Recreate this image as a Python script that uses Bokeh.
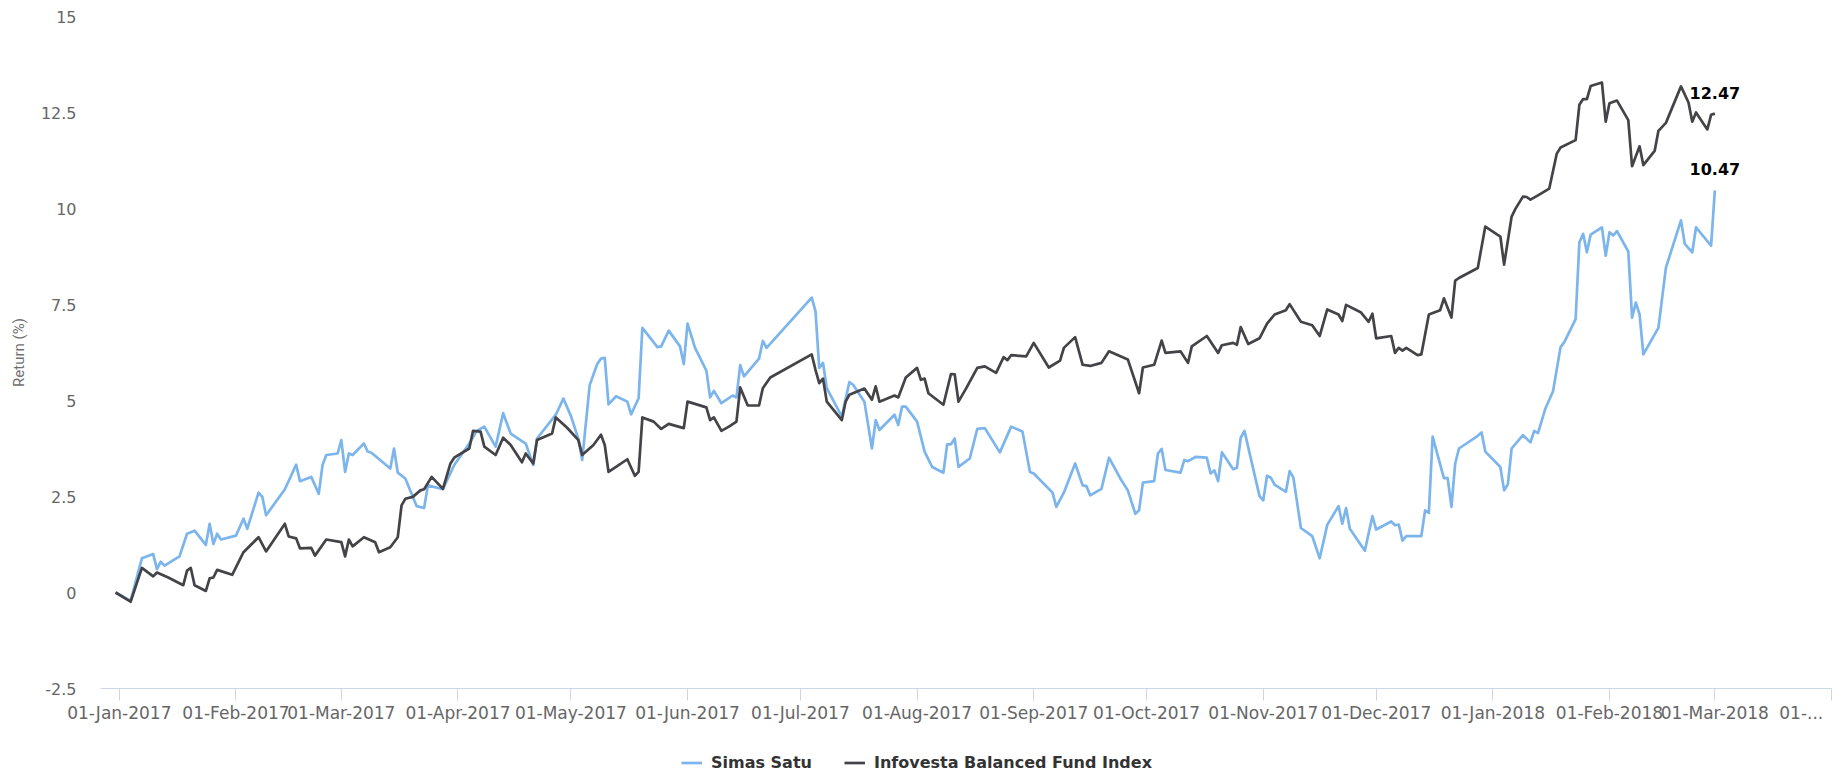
import pandas as pd
from bokeh.plotting import figure
from bokeh.layouts import column
from bokeh.models import (Range1d, FixedTicker, DatetimeTickFormatter, Legend,
                          LegendItem)
from bokeh.core.properties import value
from bokeh.embed import file_html
from bokeh.resources import INLINE

series_names = ["Simas Satu", "Infovesta Balanced Fund Index"]
series_colors = ["#7cb5ec", "#434348"]

simas_dates = [
    "2016-12-31", "2017-01-04", "2017-01-07", "2017-01-10", "2017-01-11", "2017-01-12", "2017-01-13",
    "2017-01-17", "2017-01-19", "2017-01-21", "2017-01-24", "2017-01-25", "2017-01-26", "2017-01-27",
    "2017-01-28", "2017-02-01", "2017-02-03", "2017-02-04", "2017-02-07", "2017-02-08", "2017-02-09",
    "2017-02-14", "2017-02-17", "2017-02-18", "2017-02-21", "2017-02-23", "2017-02-24", "2017-02-25",
    "2017-02-28", "2017-03-01", "2017-03-02", "2017-03-03", "2017-03-04", "2017-03-07", "2017-03-08",
    "2017-03-09", "2017-03-14", "2017-03-15", "2017-03-16", "2017-03-18", "2017-03-21", "2017-03-23",
    "2017-03-24", "2017-03-28", "2017-03-31", "2017-04-04", "2017-04-06", "2017-04-08", "2017-04-11",
    "2017-04-13", "2017-04-15", "2017-04-19", "2017-04-21", "2017-04-22", "2017-04-27", "2017-04-29",
    "2017-05-01", "2017-05-03", "2017-05-04", "2017-05-06", "2017-05-08", "2017-05-09", "2017-05-10",
    "2017-05-11", "2017-05-13", "2017-05-16", "2017-05-17", "2017-05-19", "2017-05-20", "2017-05-24",
    "2017-05-25", "2017-05-27", "2017-05-30", "2017-05-31", "2017-06-01", "2017-06-03", "2017-06-06",
    "2017-06-07", "2017-06-08", "2017-06-10", "2017-06-13", "2017-06-14", "2017-06-15", "2017-06-16",
    "2017-06-20", "2017-06-21", "2017-06-22", "2017-07-04", "2017-07-05", "2017-07-06", "2017-07-07",
    "2017-07-08", "2017-07-12", "2017-07-14", "2017-07-15", "2017-07-18", "2017-07-20", "2017-07-21",
    "2017-07-22", "2017-07-26", "2017-07-27", "2017-07-28", "2017-07-29", "2017-08-01", "2017-08-03",
    "2017-08-05", "2017-08-08", "2017-08-09", "2017-08-10", "2017-08-11", "2017-08-12", "2017-08-15",
    "2017-08-17", "2017-08-19", "2017-08-23", "2017-08-26", "2017-08-29", "2017-08-31", "2017-09-01",
    "2017-09-06", "2017-09-07", "2017-09-09", "2017-09-12", "2017-09-14", "2017-09-15", "2017-09-16",
    "2017-09-19", "2017-09-21", "2017-09-24", "2017-09-26", "2017-09-28", "2017-09-29", "2017-09-30",
    "2017-10-03", "2017-10-04", "2017-10-05", "2017-10-06", "2017-10-10", "2017-10-11", "2017-10-12",
    "2017-10-14", "2017-10-17", "2017-10-18", "2017-10-19", "2017-10-20", "2017-10-21", "2017-10-24",
    "2017-10-25", "2017-10-26", "2017-10-27", "2017-10-31", "2017-11-01", "2017-11-02", "2017-11-03",
    "2017-11-04", "2017-11-07", "2017-11-08", "2017-11-09", "2017-11-11", "2017-11-14", "2017-11-16",
    "2017-11-18", "2017-11-21", "2017-11-22", "2017-11-23", "2017-11-24", "2017-11-28", "2017-11-30",
    "2017-12-01", "2017-12-05", "2017-12-06", "2017-12-07", "2017-12-08", "2017-12-09", "2017-12-13",
    "2017-12-14", "2017-12-15", "2017-12-16", "2017-12-19", "2017-12-20", "2017-12-21", "2017-12-22",
    "2017-12-23", "2017-12-28", "2017-12-29", "2017-12-30", "2018-01-03", "2018-01-04", "2018-01-05",
    "2018-01-06", "2018-01-09", "2018-01-11", "2018-01-12", "2018-01-13", "2018-01-15", "2018-01-17",
    "2018-01-19", "2018-01-20", "2018-01-23", "2018-01-24", "2018-01-25", "2018-01-26", "2018-01-27",
    "2018-01-30", "2018-01-31", "2018-02-01", "2018-02-02", "2018-02-03", "2018-02-06", "2018-02-07",
    "2018-02-08", "2018-02-09", "2018-02-10", "2018-02-14", "2018-02-16", "2018-02-20", "2018-02-21",
    "2018-02-23", "2018-02-24", "2018-02-28", "2018-03-01",
]
simas_values = [
    0.00, -0.22, 0.89, 1.00, 0.61, 0.80, 0.70,
    0.94, 1.53, 1.61, 1.24, 1.79, 1.26, 1.53,
    1.38, 1.48, 1.92, 1.66, 2.60, 2.49, 2.01,
    2.69, 3.33, 2.90, 3.01, 2.57, 3.32, 3.58,
    3.62, 3.97, 3.14, 3.62, 3.58, 3.88, 3.67,
    3.64, 3.23, 3.75, 3.12, 2.97, 2.25, 2.20,
    2.79, 2.69, 3.32, 3.88, 4.21, 4.32, 3.80,
    4.67, 4.14, 3.88, 3.32, 4.01, 4.63, 5.05,
    4.60, 4.00, 3.45, 5.40, 5.95, 6.09, 6.11,
    4.90, 5.11, 4.97, 4.64, 5.06, 6.89, 6.39,
    6.41, 6.82, 6.41, 5.95, 7.00, 6.37, 5.78,
    5.08, 5.25, 4.93, 5.13, 5.08, 5.92, 5.63,
    6.09, 6.55, 6.37, 7.68, 7.33, 5.85, 5.98,
    5.32, 4.58, 5.48, 5.41, 4.97, 3.75, 4.49,
    4.23, 4.63, 4.36, 4.84, 4.84, 4.45, 3.67,
    3.27, 3.12, 3.86, 3.86, 4.01, 3.27, 3.49,
    4.26, 4.28, 3.65, 4.32, 4.19, 3.14, 3.10,
    2.60, 2.23, 2.60, 3.36, 2.79, 2.77, 2.53,
    2.70, 3.51, 2.97, 2.66, 2.05, 2.14, 2.86,
    2.90, 3.62, 3.74, 3.19, 3.12, 3.45, 3.42,
    3.53, 3.51, 3.10, 3.18, 2.90, 3.65, 3.21,
    3.25, 4.03, 4.21, 2.51, 2.40, 3.04, 2.99,
    2.81, 2.62, 3.16, 2.99, 1.68, 1.47, 0.89,
    1.76, 2.25, 1.79, 2.20, 1.66, 1.09, 1.99,
    1.64, 1.85, 1.75, 1.77, 1.35, 1.47, 1.47,
    2.14, 2.07, 4.06, 2.98, 2.98, 2.23, 3.36,
    3.75, 4.08, 4.17, 3.67, 3.27, 2.66, 2.82,
    3.75, 4.10, 3.91, 4.21, 4.15, 4.80, 5.24,
    6.39, 6.52, 7.12, 9.12, 9.34, 8.86, 9.32,
    9.51, 8.77, 9.38, 9.30, 9.41, 8.88, 7.16,
    7.55, 7.24, 6.20, 6.89, 8.46, 9.69, 9.08,
    8.86, 9.51, 9.03, 10.47,
]

index_dates = [
    "2016-12-31", "2017-01-04", "2017-01-07", "2017-01-10", "2017-01-11", "2017-01-14", "2017-01-18",
    "2017-01-19", "2017-01-20", "2017-01-21", "2017-01-24", "2017-01-25", "2017-01-26", "2017-01-27",
    "2017-01-31", "2017-02-03", "2017-02-07", "2017-02-09", "2017-02-14", "2017-02-15", "2017-02-17",
    "2017-02-18", "2017-02-21", "2017-02-22", "2017-02-25", "2017-03-01", "2017-03-02", "2017-03-03",
    "2017-03-04", "2017-03-07", "2017-03-10", "2017-03-11", "2017-03-14", "2017-03-16", "2017-03-17",
    "2017-03-18", "2017-03-20", "2017-03-22", "2017-03-23", "2017-03-25", "2017-03-28", "2017-03-30",
    "2017-03-31", "2017-04-04", "2017-04-05", "2017-04-07", "2017-04-08", "2017-04-11", "2017-04-13",
    "2017-04-15", "2017-04-18", "2017-04-19", "2017-04-21", "2017-04-22", "2017-04-26", "2017-04-27",
    "2017-04-30", "2017-05-03", "2017-05-04", "2017-05-07", "2017-05-09", "2017-05-10", "2017-05-11",
    "2017-05-13", "2017-05-16", "2017-05-18", "2017-05-19", "2017-05-20", "2017-05-23", "2017-05-25",
    "2017-05-27", "2017-05-31", "2017-06-01", "2017-06-06", "2017-06-07", "2017-06-08", "2017-06-10",
    "2017-06-12", "2017-06-14", "2017-06-15", "2017-06-17", "2017-06-20", "2017-06-21", "2017-06-23",
    "2017-07-04", "2017-07-05", "2017-07-06", "2017-07-07", "2017-07-08", "2017-07-12", "2017-07-13",
    "2017-07-14", "2017-07-18", "2017-07-20", "2017-07-21", "2017-07-22", "2017-07-26", "2017-07-27",
    "2017-07-29", "2017-08-01", "2017-08-02", "2017-08-03", "2017-08-04", "2017-08-08", "2017-08-10",
    "2017-08-11", "2017-08-12", "2017-08-14", "2017-08-17", "2017-08-19", "2017-08-22", "2017-08-24",
    "2017-08-25", "2017-08-26", "2017-08-30", "2017-09-01", "2017-09-05", "2017-09-08", "2017-09-09",
    "2017-09-12", "2017-09-14", "2017-09-16", "2017-09-19", "2017-09-21", "2017-09-26", "2017-09-29",
    "2017-09-30", "2017-10-03", "2017-10-05", "2017-10-06", "2017-10-10", "2017-10-12", "2017-10-13",
    "2017-10-17", "2017-10-20", "2017-10-21", "2017-10-24", "2017-10-25", "2017-10-26", "2017-10-28",
    "2017-10-31", "2017-11-02", "2017-11-04", "2017-11-07", "2017-11-08", "2017-11-11", "2017-11-14",
    "2017-11-16", "2017-11-18", "2017-11-21", "2017-11-22", "2017-11-23", "2017-11-27", "2017-11-29",
    "2017-11-30", "2017-12-01", "2017-12-05", "2017-12-06", "2017-12-07", "2017-12-08", "2017-12-09",
    "2017-12-12", "2017-12-13", "2017-12-15", "2017-12-18", "2017-12-19", "2017-12-21", "2017-12-22",
    "2017-12-23", "2017-12-28", "2017-12-30", "2018-01-03", "2018-01-04", "2018-01-06", "2018-01-07",
    "2018-01-09", "2018-01-10", "2018-01-11", "2018-01-13", "2018-01-16", "2018-01-18", "2018-01-19",
    "2018-01-23", "2018-01-24", "2018-01-25", "2018-01-26", "2018-01-27", "2018-01-30", "2018-01-31",
    "2018-02-01", "2018-02-03", "2018-02-06", "2018-02-07", "2018-02-09", "2018-02-10", "2018-02-13",
    "2018-02-14", "2018-02-16", "2018-02-20", "2018-02-22", "2018-02-23", "2018-02-24", "2018-02-27",
    "2018-02-28", "2018-03-01",
]
index_values = [
    0.00, -0.24, 0.64, 0.42, 0.52, 0.39, 0.19,
    0.57, 0.64, 0.19, 0.04, 0.37, 0.39, 0.59,
    0.46, 1.05, 1.44, 1.07, 1.79, 1.46, 1.41,
    1.15, 1.16, 0.96, 1.38, 1.31, 0.94, 1.38,
    1.20, 1.44, 1.31, 1.05, 1.18, 1.44, 2.27,
    2.44, 2.49, 2.66, 2.69, 3.01, 2.70, 3.36,
    3.51, 3.75, 4.21, 4.19, 3.80, 3.58, 4.03,
    3.84, 3.39, 3.62, 3.36, 3.97, 4.14, 4.56,
    4.29, 3.97, 3.58, 3.84, 4.11, 3.84, 3.14,
    3.27, 3.47, 3.04, 3.14, 4.56, 4.45, 4.26,
    4.39, 4.28, 4.97, 4.82, 4.49, 4.56, 4.21,
    4.32, 4.45, 5.34, 4.87, 4.87, 5.32, 5.60,
    6.20, 5.80, 5.45, 5.57, 4.97, 4.49, 4.97,
    5.15, 5.31, 5.02, 5.37, 4.97, 5.13, 5.08,
    5.60, 5.85, 5.54, 5.57, 5.19, 4.89, 5.69,
    5.68, 4.97, 5.31, 5.85, 5.89, 5.72, 6.13,
    6.05, 6.18, 6.15, 6.50, 5.86, 6.04, 6.37,
    6.65, 5.93, 5.90, 5.98, 6.28, 6.07, 5.19,
    5.86, 5.93, 6.56, 6.24, 6.28, 5.98, 6.41,
    6.68, 6.24, 6.44, 6.50, 6.45, 6.91, 6.47,
    6.62, 7.00, 7.24, 7.35, 7.51, 7.05, 6.96,
    6.68, 7.37, 7.24, 7.07, 7.49, 7.29, 7.05,
    7.26, 6.62, 6.68, 6.24, 6.37, 6.30, 6.37,
    6.18, 6.20, 7.24, 7.35, 7.66, 7.16, 8.12,
    8.19, 8.45, 9.53, 9.27, 8.54, 9.79, 9.99,
    10.31, 10.30, 10.23, 10.34, 10.52, 11.43, 11.59,
    11.78, 12.70, 12.85, 12.85, 13.19, 13.28, 12.26,
    12.74, 12.81, 12.30, 11.10, 11.62, 11.13, 11.50,
    12.02, 12.23, 13.18, 12.76, 12.26, 12.50, 12.06,
    12.44, 12.47,
]

x_tick_dates = [
    "2017-01-01", "2017-02-01", "2017-03-01", "2017-04-01", "2017-05-01", "2017-06-01",
    "2017-07-01", "2017-08-01", "2017-09-01", "2017-10-01", "2017-11-01", "2017-12-01",
    "2018-01-01", "2018-02-01", "2018-03-01", "2018-04-01",
]
truncated_last_tick = "01-..."
y_ticks = [-2.5, 0, 2.5, 5, 7.5, 10, 12.5, 15]
y_tick_labels = ["-2.5", "0", "2.5", "5", "7.5", "10", "12.5", "15"]
y_title = "Return (%)"
x_start, x_end = "2016-12-27", "2018-04-01"

AXIS_COLOR = "#ccd6eb"
LABEL_COLOR = "#666666"
W, H_MAIN, H_LEG = 1839, 740, 36


def ms(d):
    return float(pd.Timestamp(d).value // 10**6)


p = figure(width=W, height=H_MAIN, output_backend="svg", toolbar_location=None,
           x_axis_type="datetime",
           x_range=Range1d(ms(x_start), ms(x_end)),
           y_range=Range1d(y_ticks[0], y_ticks[-1]),
           min_border_left=100, min_border_right=8, min_border_top=16,
           min_border_bottom=52)
p.outline_line_color = None
p.xgrid.visible = False
p.ygrid.visible = False

renderers = []
for dates, vals, col in [(simas_dates, simas_values, series_colors[0]),
                         (index_dates, index_values, series_colors[1])]:
    r = p.line(pd.to_datetime(dates), vals, line_color=col, line_width=2.7,
               line_join="round")
    renderers.append(r)

# end value labels
for dates, vals in [(index_dates, index_values), (simas_dates, simas_values)]:
    p.text(x=[pd.Timestamp(dates[-1])], y=[vals[-1]], text=[f"{vals[-1]:.2f}"],
           text_align="center", text_baseline="middle", y_offset=-21,
           text_font=value("DejaVu Sans"), text_font_style="bold",
           text_font_size="16px", text_color="#000000")

# x axis
xt = [ms(d) for d in x_tick_dates]
xa = p.xaxis[0]
xa.ticker = FixedTicker(ticks=xt, minor_ticks=[])
fmt = "%d-%b-%Y"
xa.formatter = DatetimeTickFormatter(milliseconds=fmt, seconds=fmt, minsec=fmt, minutes=fmt,
                                     hourmin=fmt, hours=fmt, days=fmt, months=fmt, years=fmt)
# last label is truncated by the chart edge; trailing no-break spaces shift it left
xa.major_label_overrides = {xt[-1]: truncated_last_tick + "\u00a0" * 3}
xa.axis_line_color = AXIS_COLOR
xa.major_tick_line_color = AXIS_COLOR
xa.major_tick_out = 12
xa.major_tick_in = 0
xa.minor_tick_line_color = None
xa.major_label_standoff = 2
xa.major_label_text_font = "DejaVu Sans"
xa.major_label_text_font_size = "17px"
xa.major_label_text_color = LABEL_COLOR

# y axis
ya = p.yaxis[0]
ya.ticker = FixedTicker(ticks=y_ticks, minor_ticks=[])
ya.major_label_overrides = {t: s for t, s in zip(y_ticks, y_tick_labels)}
ya.axis_line_color = None
ya.major_tick_line_color = None
ya.minor_tick_line_color = None
ya.major_tick_out = 0
ya.major_tick_in = 0
ya.major_label_standoff = 24
ya.major_label_text_font = "DejaVu Sans"
ya.major_label_text_font_size = "16px"
ya.major_label_text_color = LABEL_COLOR
ya.axis_label = y_title
ya.axis_label_standoff = 10
ya.axis_label_text_font = "Roboto"
ya.axis_label_text_font_style = "normal"
ya.axis_label_text_font_size = "15px"
ya.axis_label_text_color = "#707070"

# legend strip below the chart (legend samples use the series styles)
leg = figure(width=W, height=H_LEG, output_backend="svg", toolbar_location=None,
             x_range=Range1d(0, 1), y_range=Range1d(0, 1),
             x_axis_location=None, y_axis_location=None,
             min_border=0, min_border_left=0, min_border_right=0,
             min_border_top=0, min_border_bottom=0)
leg.outline_line_color = None
leg.xgrid.visible = False
leg.ygrid.visible = False
nan = float("nan")
leg_renderers = [leg.line(x=[nan, nan], y=[nan, nan], line_color=c, line_width=2.7)
                 for c in series_colors]
legend = Legend(items=[LegendItem(label=n, renderers=[r]) for n, r in zip(series_names, leg_renderers)],
                orientation="horizontal", location=(581, 4),
                label_text_font="DejaVu Sans", label_text_font_style="bold",
                label_text_font_size="16px", label_text_color="#333333",
                glyph_width=21, glyph_height=17, label_height=17, label_standoff=9,
                spacing=32, padding=0, margin=0, border_line_color=None,
                background_fill_alpha=0)
leg.add_layout(legend)

layout = column(p, leg, spacing=0)
open("out.html", "w").write(file_html(layout, INLINE))
